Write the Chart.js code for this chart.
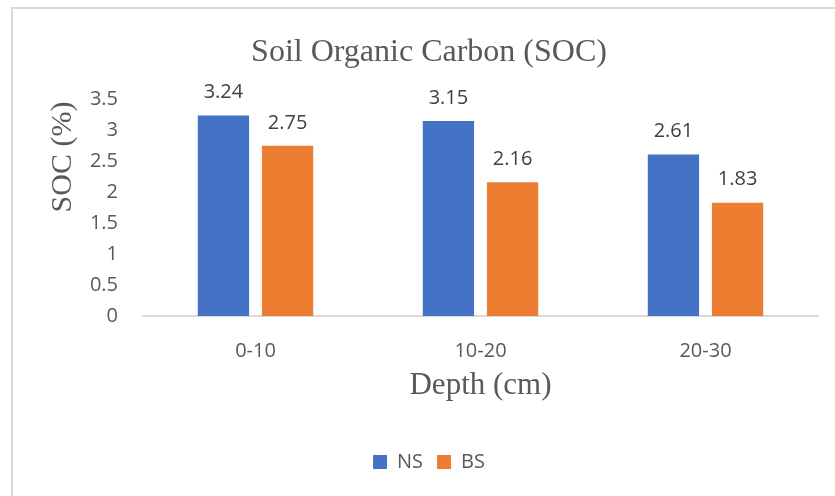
<!DOCTYPE html>
<html>
<head>
<meta charset="utf-8">
<script src="https://cdn.jsdelivr.net/npm/chart.js@4"></script>
<style>
  html, body { margin: 0; padding: 0; background: #ffffff; }
  #wrap { width: 835px; height: 496px; position: relative; }
</style>
</head>
<body>
<div id="wrap"><canvas id="soc"></canvas></div>
<script>
// Soil organic carbon by depth, two land-use series
const depths = ['0-10', '10-20', '20-30'];
const nsValues = [3.24, 3.15, 2.61];
const bsValues = [2.75, 2.16, 1.83];
const seriesNames = ['NS', 'BS'];

const SANS = '"Open Sans", "Liberation Sans", sans-serif';
const SERIF = '"Liberation Serif", "DejaVu Serif", serif';
const GREY = '#595959';

// Light frame along the top and left of the canvas
const framePlugin = {
  id: 'frame',
  beforeDraw(chart) {
    const ctx = chart.ctx;
    ctx.save();
    ctx.fillStyle = '#ffffff';
    ctx.fillRect(0, 0, chart.width, chart.height);
    ctx.strokeStyle = '#d9d9d9';
    ctx.lineWidth = 2;
    ctx.beginPath();
    ctx.moveTo(12, chart.height);
    ctx.lineTo(12, 8);
    ctx.lineTo(chart.width, 8);
    ctx.stroke();
    ctx.restore();
  }
};

// Value labels above each bar
const valueLabels = {
  id: 'valueLabels',
  afterDatasetsDraw(chart) {
    const ctx = chart.ctx;
    ctx.save();
    ctx.font = '20px ' + SANS;
    ctx.fillStyle = '#404040';
    ctx.textAlign = 'center';
    ctx.textBaseline = 'middle';
    chart.data.datasets.forEach((ds, i) => {
      chart.getDatasetMeta(i).data.forEach((bar, j) => {
        ctx.fillText(ds.data[j].toFixed(2), bar.x, bar.y - 23);
      });
    });
    ctx.restore();
  }
};

// Vertical axis title, set higher than the axis midpoint
const yTitle = {
  id: 'yTitle',
  afterDraw(chart) {
    const ctx = chart.ctx;
    ctx.save();
    ctx.translate(63, 157);
    ctx.rotate(-Math.PI / 2);
    ctx.font = '30px ' + SERIF;
    ctx.fillStyle = GREY;
    ctx.textAlign = 'center';
    ctx.textBaseline = 'middle';
    ctx.fillText('SOC (%)', 0, 0);
    ctx.restore();
  }
};

new Chart(document.getElementById('soc'), {
  type: 'bar',
  data: {
    labels: depths,
    datasets: [
      { label: seriesNames[0], data: nsValues, backgroundColor: '#4472C4',
        categoryPercentage: 0.57, barPercentage: 0.8 },
      { label: seriesNames[1], data: bsValues, backgroundColor: '#ED7D31',
        categoryPercentage: 0.57, barPercentage: 0.8 }
    ]
  },
  options: {
    responsive: true,
    maintainAspectRatio: false,
    animation: false,
    layout: { padding: { left: 40, right: 17, top: 8, bottom: 14 } },
    plugins: {
      title: {
        display: true,
        text: 'Soil Organic Carbon (SOC)',
        color: GREY,
        font: { family: SERIF, size: 32, weight: 'normal' },
        padding: { top: 25, bottom: 28 }
      },
      legend: {
        position: 'bottom',
        labels: {
          color: GREY,
          font: { family: SANS, size: 20 },
          boxWidth: 14,
          boxHeight: 14,
          padding: 14
        }
      },
      tooltip: { enabled: false }
    },
    scales: {
      x: {
        grid: { display: false, drawTicks: false },
        border: { display: true, color: '#d9d9d9', width: 2 },
        ticks: { color: GREY, font: { family: SANS, size: 20 }, padding: 23 },
        title: {
          display: true,
          text: 'Depth (cm)',
          color: GREY,
          font: { family: SERIF, size: 31, weight: 'normal' },
          padding: { top: 4, bottom: 34 }
        },
        afterFit(scale) { scale.height = 122; }
      },
      y: {
        min: 0,
        max: 3.5,
        ticks: {
          stepSize: 0.5,
          color: GREY,
          font: { family: SANS, size: 20 },
          padding: 25,
          callback: (v) => String(v)
        },
        grid: { display: false, drawTicks: false },
        border: { display: false },
        afterFit(scale) { scale.width = 103; }
      }
    }
  },
  plugins: [framePlugin, valueLabels, yTitle]
});
</script>
</body>
</html>
